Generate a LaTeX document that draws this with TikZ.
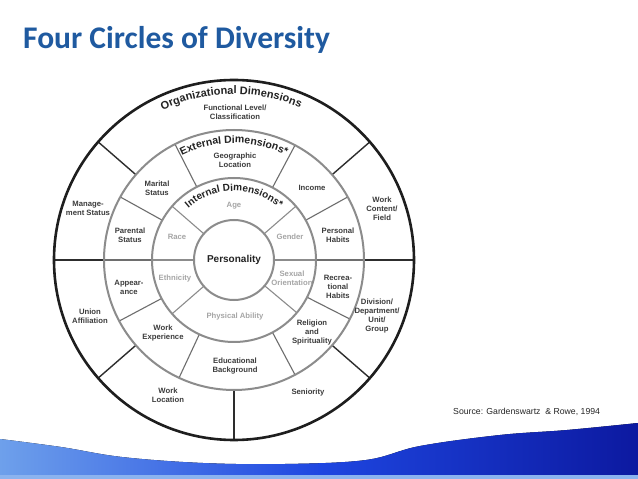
\documentclass[tikz,border=0pt]{standalone}
\usepackage{fontspec}
\setmainfont{Liberation Sans}
\newfontfamily\mytitlefont{Carlito}
\usetikzlibrary{decorations.text}
\definecolor{titleblue}{RGB}{31,90,160}
\definecolor{ringgray}{RGB}{140,140,140}
\definecolor{spokegray}{RGB}{110,110,110}
\definecolor{outerblack}{RGB}{30,30,30}
\definecolor{orgblack}{RGB}{45,45,45}
\definecolor{labelgray}{RGB}{60,60,60}
\definecolor{innergray}{RGB}{165,165,165}
\definecolor{arcblack}{RGB}{35,35,35}
\definecolor{waveleft}{RGB}{110,160,235}
\definecolor{wavemid}{RGB}{30,70,225}
\definecolor{waveright}{RGB}{12,25,160}
\newcommand\myarcfont{\fontsize{10.5}{12}\selectfont\bfseries\color{arcblack}}
\newcommand\myorgarcfont{\fontsize{11}{12}\selectfont\bfseries\color{arcblack}}
\newcommand\myintarcfont{\fontsize{10}{12}\selectfont\bfseries\color{arcblack}}
\begin{document}
\begin{tikzpicture}[x=1pt,y=1pt,
  lbl/.style={font=\fontsize{7.7}{9}\selectfont\bfseries, text=labelgray, align=center, inner sep=0pt},
  ilbl/.style={lbl, text=innergray},
  orgline/.style={line width=1.4pt, draw=orgblack},
  extline/.style={line width=1.1pt, draw=spokegray},
  intline/.style={line width=1.1pt, draw=ringgray},
  ring/.style={line width=2pt, draw=ringgray}]
\useasboundingbox (-234,-219) rectangle (404,260);
\fill[white] (-234,-219) rectangle (404,260);
% wave
\fill[left color=waveleft, right color=waveright, middle color=wavemid]
  plot[smooth, tension=0.6] coordinates {(-234,-179) (-173,-187) (-112,-197) (-31,-203) (51,-204) (132,-200) (186,-186) (266,-175) (333,-170) (404,-163)}
  -- (404,-219) -- (-234,-219) -- cycle;
\fill[waveleft!80!white] (-234,-219) rectangle (404,-215);
% spokes
\foreach \a in {0,41,139,180,221,270,319} \draw[orgline] (\a:130) -- (\a:180);
\foreach \a in {0,29,62,117,151,180,208,245,298,333} \draw[extline] (\a:82) -- (\a:130);
\foreach \a in {0,41,139,180,221,320} \draw[intline] (\a:40) -- (\a:82);
% circles
\draw[line width=2.6pt, draw=outerblack] (0,0) circle (180);
\draw[ring] (0,0) circle (130);
\draw[ring] (0,0) circle (82);
\draw[ring] (0,0) circle (40);
% arc titles
\path[decorate, decoration={text along path, text align=center, text={|\myorgarcfont|Organizational Dimensions}}]
  (122:166) arc[start angle=122, end angle=60, radius=166];
\path[decorate, decoration={text along path, text align=center, text={|\myarcfont|External Dimensions*}}]
  (125:117) arc[start angle=125, end angle=55, radius=117];
\path[decorate, decoration={text along path, text align=center, text={|\myintarcfont|Internal Dimensions*}}]
  (140:69) arc[start angle=140, end angle=40, radius=69];
% organizational labels
\node[lbl] (func) at (1,148) {Functional Level/\\Classification};
\node[lbl] (mgmt) at (-146,52) {Manage-\\ment Status};
\node[lbl] (union) at (-144,-56) {Union\\Affiliation};
\node[lbl] (workloc) at (-66,-135) {Work\\Location};
\node[lbl] (senior) at (74,-133) {Seniority};
\node[lbl] (division) at (143,-56) {Division/\\Department/\\Unit/\\Group};
\node[lbl] (content) at (148,51) {Work\\Content/\\Field};
% external labels
\node[lbl] (geo) at (1,100) {Geographic\\Location};
\node[lbl] (marital) at (-77,72) {Marital\\Status};
\node[lbl] (parental) at (-104,25) {Parental\\Status};
\node[lbl] (appear) at (-105,-27) {Appear-\\ance};
\node[lbl] (workexp) at (-71,-73) {Work\\Experience};
\node[lbl] (edu) at (1,-106) {Educational\\Background};
\node[lbl] (religion) at (78,-73) {Religion\\and\\Spirituality};
\node[lbl] (recrea) at (104,-27) {Recrea-\\tional\\Habits};
\node[lbl] (personal) at (104,25) {Personal\\Habits};
\node[lbl] (income) at (78,72) {Income};
% internal labels
\node[ilbl] (age) at (0,54) {Age};
\node[ilbl] (race) at (-57,23) {Race};
\node[ilbl] (gender) at (56,23) {Gender};
\node[ilbl] (ethnic) at (-59,-19) {Ethnicity};
\node[ilbl] (sexual) at (58,-18) {Sexual\\Orientation};
\node[ilbl] (physical) at (1,-57) {Physical Ability};
\node[lbl, font=\fontsize{10}{12}\selectfont\bfseries, text=arcblack] (person) at (0,0) {Personality};
% title and source
\node[anchor=base west, inner sep=0pt, font=\mytitlefont\fontsize{31.5}{36}\selectfont\bfseries, text=titleblue] (title) at (-211,211) {Four Circles of Diversity};
\node[anchor=west, inner sep=0pt, font=\fontsize{8.7}{10}\selectfont, text=black!85] (source) at (219,-152) {Source: Gardenswartz\ \ \& Rowe, 1994};
\end{tikzpicture}
\end{document}
